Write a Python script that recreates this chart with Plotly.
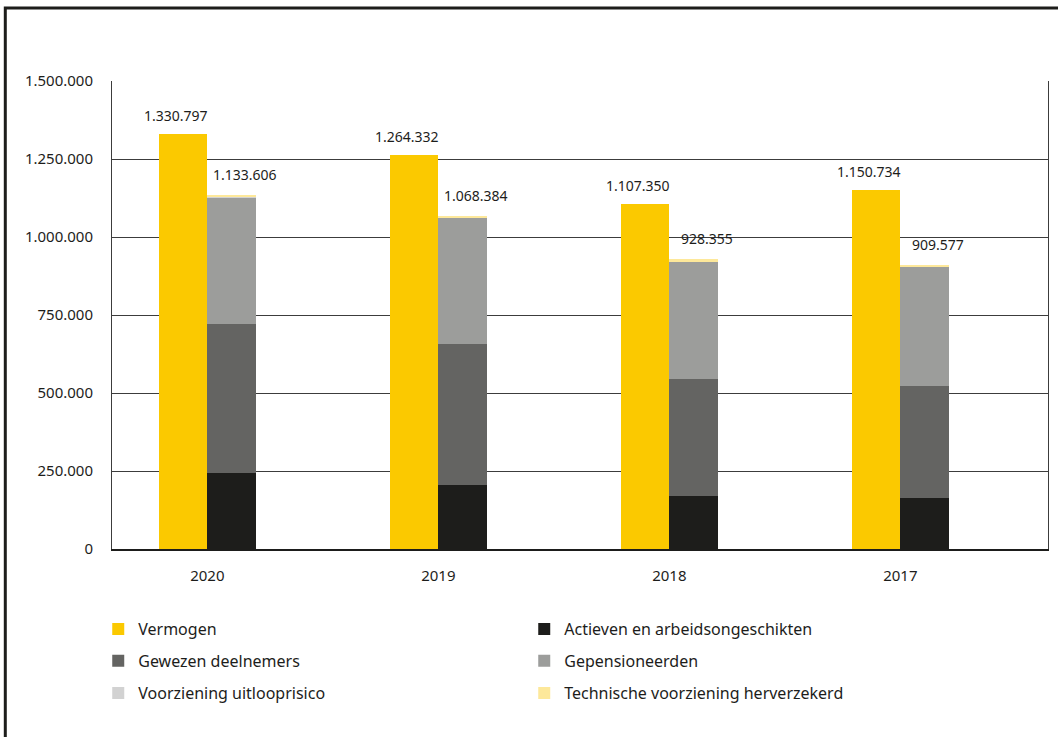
import plotly.graph_objects as go

# Jaren en bedragen (x 1 euro)
years = ["2020", "2019", "2018", "2017"]
vermogen = [1330797, 1264332, 1107350, 1150734]
actieven = [243500, 205000, 170000, 163500]
gewezen = [477600, 453000, 374000, 360000]
gepensioneerden = [406900, 405000, 378000, 381500]
uitlooprisico = [1000, 1000, 1000, 1000]
herverzekerd = [4606, 4384, 5355, 3577]
totaal_voorziening = [1133606, 1068384, 928355, 909577]

y_ticks = [0, 250000, 500000, 750000, 1000000, 1250000, 1500000]

FONT = "Noto Sans"
BAR_W = 0.21
idx = list(range(len(years)))
x_verm = [i - BAR_W / 2 for i in idx]
x_vz = [i + BAR_W / 2 for i in idx]

stack = [
    ("Actieven en arbeidsongeschikten", actieven, "#1d1d1b"),
    ("Gewezen deelnemers", gewezen, "#646462"),
    ("Gepensioneerden", gepensioneerden, "#9c9d9b"),
    ("Voorziening uitlooprisico", uitlooprisico, "#d2d2d2"),
    ("Technische voorziening herverzekerd", herverzekerd, "#fde89a"),
]
legend_of = {
    "Vermogen": "legend",
    "Actieven en arbeidsongeschikten": "legend",
    "Gewezen deelnemers": "legend2",
    "Gepensioneerden": "legend2",
    "Voorziening uitlooprisico": "legend3",
    "Technische voorziening herverzekerd": "legend3",
}


def nl(v):
    return f"{v:,}".replace(",", ".")


fig = go.Figure()
fig.add_bar(x=x_verm, y=vermogen, width=BAR_W, name="Vermogen",
            marker=dict(color="#fbc900", line=dict(width=0)),
            legend=legend_of["Vermogen"])
for name, vals, col in stack:
    fig.add_bar(x=x_vz, y=vals, width=BAR_W, name=name,
                marker=dict(color=col, line=dict(width=0)),
                legend=legend_of[name])

# waardelabels boven de staven
for i in idx:
    fig.add_annotation(x=x_verm[i], y=vermogen[i], text=nl(vermogen[i]),
                       showarrow=False, yanchor="bottom", yshift=7, xshift=-7,
                       font=dict(family=FONT, size=14, color="#1d1d1b"))
    fig.add_annotation(x=x_vz[i], y=totaal_voorziening[i], text=nl(totaal_voorziening[i]),
                       showarrow=False, yanchor="bottom", yshift=9, xshift=13,
                       font=dict(family=FONT, size=14, color="#1d1d1b"))

# kader rond de hele grafiek
fig.add_shape(type="rect", xref="paper", yref="paper",
              x0=-0.114, x1=1.05, y0=-0.45, y1=1.156,
              line=dict(color="#1d1d1b", width=3), fillcolor="rgba(0,0,0,0)",
              layer="above")

legend_common = dict(orientation="h", xanchor="left", yanchor="middle",
                     entrywidth=381, entrywidthmode="pixels", traceorder="normal",
                     font=dict(family=FONT, size=16, color="#1d1d1b"),
                     bgcolor="rgba(0,0,0,0)", itemclick=False, itemdoubleclick=False)

fig.update_layout(
    width=1058, height=737,
    margin=dict(l=112, r=10, t=81, b=188),
    paper_bgcolor="white", plot_bgcolor="white",
    barmode="stack", bargap=0,
    separators=",.",
    font=dict(family=FONT, size=14, color="#1d1d1b"),
    showlegend=True,
    legend=dict(x=-0.0147, y=-0.171, **legend_common),
    legend2=dict(x=-0.0147, y=-0.239, **legend_common),
    legend3=dict(x=-0.0147, y=-0.308, **legend_common),
    xaxis=dict(range=[-0.4125, 3.639], tickmode="array", tickvals=idx, ticktext=years,
               showgrid=False, zeroline=False, showline=True, linecolor="#1d1d1b",
               linewidth=2, ticks="", ticklabelstandoff=12,
               tickfont=dict(family=FONT, size=15, color="#1d1d1b")),
    yaxis=dict(range=[0, 1500000], tickmode="array", tickvals=y_ticks,
               tickformat=",d", showgrid=True, gridcolor="#3c3c3c", gridwidth=1,
               zeroline=False, showline=True, mirror=True, linecolor="#3c3c3c",
               linewidth=1, ticks="", ticklabelstandoff=15,
               tickfont=dict(family=FONT, size=15, color="#1d1d1b")),
)

fig.write_html("out.html")
